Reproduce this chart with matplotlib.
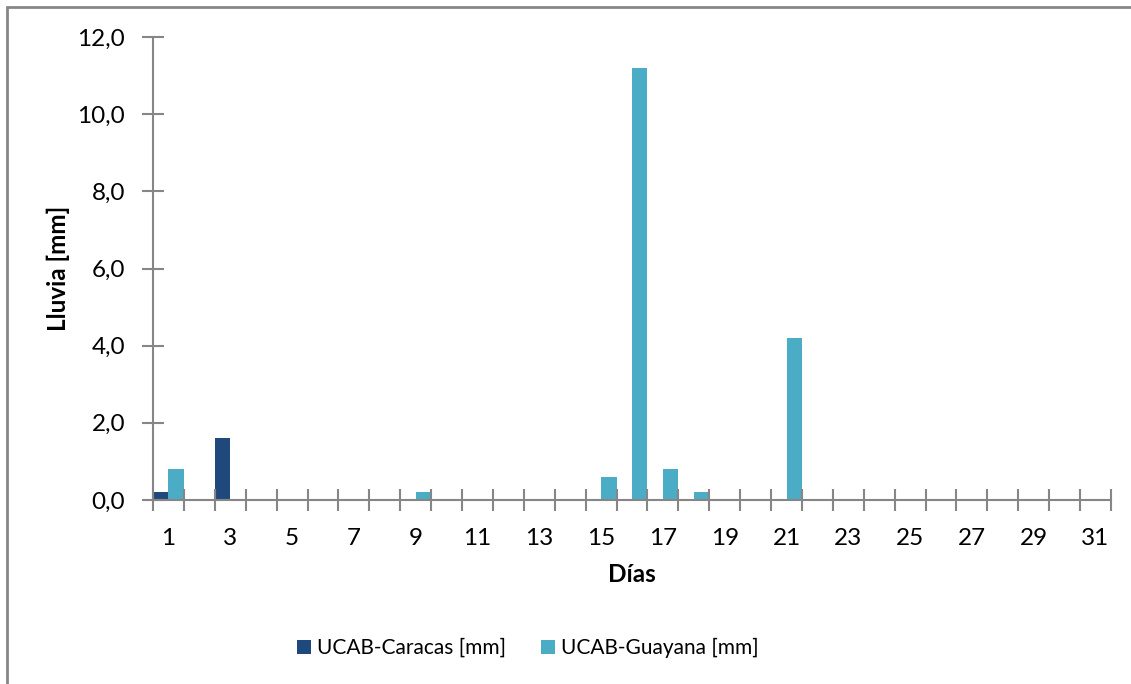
import matplotlib.pyplot as plt
from matplotlib.patches import Rectangle
from matplotlib.ticker import FuncFormatter

plt.rcParams['font.family'] = ['Lato', 'DejaVu Sans']

# daily rainfall, days 1..31
days = list(range(1, 32))
caracas = [0.2, 0, 1.6] + [0] * 28
guayana = [0.0] * 31
guayana[0] = 0.8
guayana[8] = 0.2
guayana[14] = 0.6
guayana[15] = 11.2
guayana[16] = 0.8
guayana[17] = 0.2
guayana[20] = 4.2

dark = '#1F497D'
light = '#4BACC6'
axis_gray = '#868686'

fig = plt.figure(figsize=(11.31, 6.84), dpi=100)
ax = fig.add_axes([153 / 1131, 1 - 500 / 684, (1111 - 153) / 1131, (500 - 37) / 684])

ax.bar([d - 0.5 for d in days], caracas, width=0.5, align='edge', color=dark,
       label='UCAB-Caracas [mm]')
ax.bar(days, guayana, width=0.5, align='edge', color=light,
       label='UCAB-Guayana [mm]')

ax.set_xlim(0.5, 31.5)
ax.set_ylim(0, 12)

# category ticks between days, labels on odd days
ax.set_xticks([d + 0.5 for d in range(0, 32)])
ax.set_xticklabels([])
ax.set_xticks(days[::2], minor=True)
ax.set_xticklabels([str(d) for d in days[::2]], minor=True)
ax.tick_params(axis='x', which='major', direction='inout', length=16, width=1.5,
               color=axis_gray)
ax.tick_params(axis='x', which='minor', length=0, pad=20, labelsize=17.5)

ax.set_yticks([0, 2, 4, 6, 8, 10, 12])
ax.yaxis.set_major_formatter(FuncFormatter(lambda v, p: f'{v:.1f}'.replace('.', ',')))
ax.tick_params(axis='y', direction='inout', length=16, width=1.5, color=axis_gray,
               labelsize=17.5, pad=12)

for s in ['top', 'right']:
    ax.spines[s].set_visible(False)
for s in ['left', 'bottom']:
    ax.spines[s].set_color(axis_gray)
    ax.spines[s].set_linewidth(1.5)

ax.set_xlabel('Días', fontsize=17.5, fontweight='bold', labelpad=10)
ax.set_ylabel('Lluvia [mm]', fontsize=17.5, fontweight='bold')
ax.yaxis.set_label_coords(-0.087, 0.5)

fig.legend(loc='center', bbox_to_anchor=(528 / 1131, 1 - 648 / 684), ncol=2,
           frameon=False, fontsize=15, handlelength=0.65, handleheight=0.65,
           handletextpad=0.3, columnspacing=1.7)

# outer chart border
fig.patches.append(Rectangle((7 / 1131, -0.1), 1.2, 1 - 7 / 684 + 0.1,
                             transform=fig.transFigure, fill=False,
                             edgecolor=axis_gray, linewidth=2))

fig.savefig('out.png', dpi=100)
